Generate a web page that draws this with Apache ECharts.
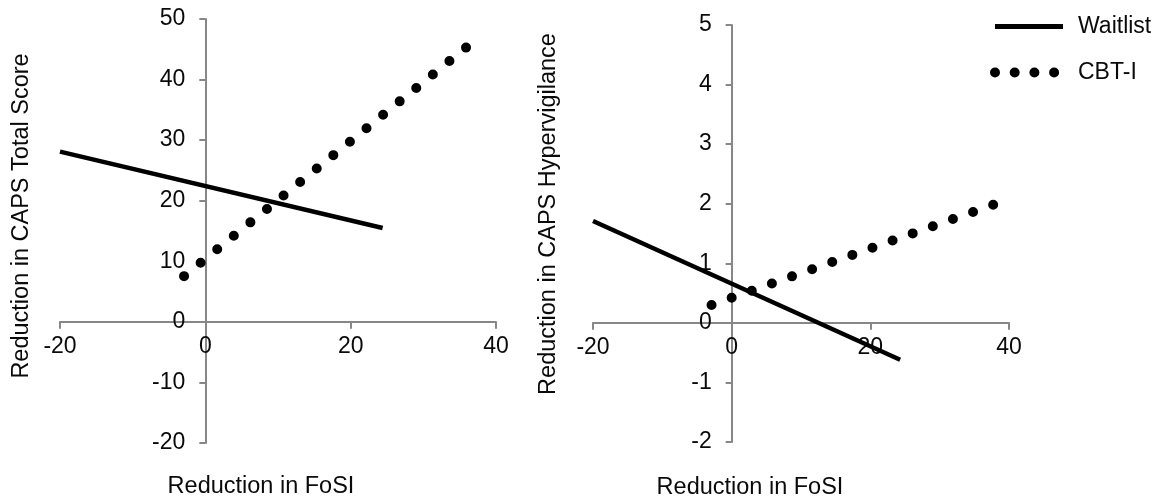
<!DOCTYPE html>
<html>
<head>
<meta charset="utf-8">
<script src="https://cdn.jsdelivr.net/npm/echarts@6/dist/echarts.min.js"></script>
<style>
  html, body { margin: 0; padding: 0; background: #fff; }
  #chart { width: 1160px; height: 500px; }
</style>
</head>
<body>
<div id="chart"></div>
<script>
// regression lines: [fosi, caps]
const totalWaitlist = [[-20, 28.1], [24.4, 15.5]]
const totalCbti = [[-2.93, 7.55], [36.0, 45.4]]
const hyperWaitlist = [[-20, 1.71], [24.3, -0.62]]
const hyperCbti = [[-2.9, 0.3], [37.9, 1.99]]

const xTicks = { min: -20, max: 40, interval: 20 }
const totalTicks = { min: -20, max: 50, interval: 10 }
const hyperTicks = { min: -2, max: 5, interval: 1 }

const seriesNames = ['Waitlist', 'CBT-I']
const xTitle = 'Reduction in FoSI'
const totalTitle = 'Reduction in CAPS Total Score'
const hyperTitle = 'Reduction in CAPS Hypervigilance'

const FONT = 'Liberation Sans, Arial, sans-serif'
const TEXT = '#0a0a0a'
const AXIS = '#878787'

const grids = [
  { left: 60, top: 19, width: 436, height: 424 },
  { left: 593, top: 25, width: 416, height: 417 },
]

const chart = echarts.init(document.getElementById('chart'))

// axes cross at zero; offset moves the whole axis (labels too) onto the zero line
function xAxis(gridIndex, yTicks) {
  const g = grids[gridIndex]
  const zeroUp = g.height * (0 - yTicks.min) / (yTicks.max - yTicks.min)
  return {
    type: 'value',
    gridIndex,
    ...xTicks,
    position: 'bottom',
    offset: -zeroUp,
    splitLine: { show: false },
    axisLine: { onZero: false, lineStyle: { color: AXIS, width: 2 } },
    axisTick: { show: true, length: 7, lineStyle: { color: AXIS, width: 2 } },
    axisLabel: { color: TEXT, fontSize: 23, fontFamily: FONT, margin: 13 },
  }
}

function yAxis(gridIndex, ticks) {
  const g = grids[gridIndex]
  const zeroRight = g.width * (0 - xTicks.min) / (xTicks.max - xTicks.min)
  return {
    type: 'value',
    gridIndex,
    ...ticks,
    position: 'left',
    offset: -zeroRight,
    splitLine: { show: false },
    axisLine: { onZero: false, lineStyle: { color: AXIS, width: 2 } },
    axisTick: { show: true, length: 6, lineStyle: { color: AXIS, width: 2 } },
    axisLabel: { color: TEXT, fontSize: 23, fontFamily: FONT, margin: 20 },
  }
}

const solid = { color: '#000', width: 4.5 }
const dotted = { color: '#000', width: 10, type: [0, 21.35], cap: 'round' }

function line(name, data, idx, style) {
  return {
    name,
    type: 'line',
    xAxisIndex: idx,
    yAxisIndex: idx,
    data,
    symbol: 'none',
    silent: true,
    lineStyle: style,
    itemStyle: { color: '#000' },
  }
}

function title(text, x, y, rotated) {
  return {
    type: 'text',
    x,
    y,
    rotation: rotated ? Math.PI / 2 : 0,
    style: {
      text,
      fill: TEXT,
      font: '23.5px ' + FONT,
      align: 'center',
      verticalAlign: 'middle',
    },
  }
}

chart.setOption({
  animation: false,
  grid: grids,
  xAxis: [xAxis(0, totalTicks), xAxis(1, hyperTicks)],
  yAxis: [yAxis(0, totalTicks), yAxis(1, hyperTicks)],
  legend: {
    orient: 'vertical',
    left: 990,
    top: 15,
    padding: 0,
    itemWidth: 68,
    itemHeight: 24,
    itemGap: 23,
    selectedMode: false,
    textStyle: { color: TEXT, fontSize: 23, fontFamily: FONT, padding: [0, 0, 0, 10] },
    data: [
      { name: seriesNames[0], itemStyle: { opacity: 0 }, lineStyle: { width: 5 } },
      { name: seriesNames[1], itemStyle: { opacity: 0 }, lineStyle: { width: 10, type: [0, 19.7], cap: 'round' } },
    ],
  },
  series: [
    line(seriesNames[0], totalWaitlist, 0, solid),
    line(seriesNames[1], totalCbti, 0, dotted),
    line(seriesNames[0], hyperWaitlist, 1, solid),
    line(seriesNames[1], hyperCbti, 1, dotted),
  ],
  graphic: [
    title(xTitle, 261, 487, false),
    title(xTitle, 750, 488, false),
    title(totalTitle, 22, 216, true),
    title(hyperTitle, 549, 214, true),
  ],
})
</script>
</body>
</html>
